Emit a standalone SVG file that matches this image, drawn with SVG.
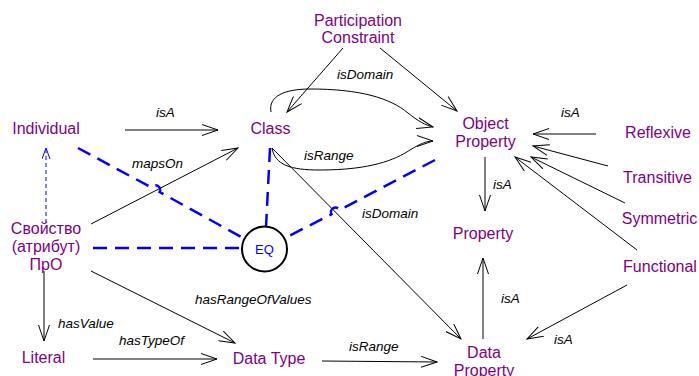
<svg xmlns="http://www.w3.org/2000/svg" width="699" height="376" viewBox="0 0 699 376">
<defs>
<style>
.n{font-family:"Liberation Sans",Arial,sans-serif;font-size:16px;fill:#800080;text-anchor:middle}
.l{font-family:"Liberation Sans",Arial,sans-serif;font-size:13.5px;font-style:italic;fill:#000}
.e{stroke:#000;stroke-width:1;fill:none;marker-end:url(#a)}
.d{stroke:#0000ff;stroke-width:2.5;fill:none;stroke-dasharray:14 8}
</style>
<marker id="a" markerWidth="17" markerHeight="12" refX="16" refY="6" orient="auto" markerUnits="userSpaceOnUse"><path d="M0,0.5 L16,6 L0,11.5" fill="none" stroke="#000" stroke-width="1"/></marker>
<marker id="b" markerWidth="12" markerHeight="9" refX="11" refY="4.5" orient="auto" markerUnits="userSpaceOnUse"><path d="M0,0.5 L11,4.5 L0,8.5" fill="none" stroke="#0000ff" stroke-width="1"/></marker>
</defs>
<rect width="699" height="376" fill="#fff"/>
<g id="connectors">
<path class="e" d="M125,130 L218,130"/>
<path class="e" d="M343,48 L287,112"/>
<path class="e" d="M380,48 L457,111"/>
<path class="e" d="M271,112 C268,96 285,89 310,89 C360,89 390,98 408,113 C418,121 425,125 433,127"/>
<path class="e" d="M272,148 C275,165 290,170 320,170 C370,170 395,160 410,150 C420,144 426,141 433,141"/>
<path class="e" d="M272,148 L461,339"/>
<path class="e" d="M91,224 L238,148"/>
<path class="e" d="M91,271 L235,343"/>
<path class="e" d="M44,271 L44,341"/>
<path class="e" d="M93,359 L217,359"/>
<path class="e" d="M322,361 L437,362"/>
<path class="e" d="M485,157 L485,211"/>
<path class="e" d="M483,339 L483,258"/>
<path class="e" d="M627,285 L527,339"/>
<path class="e" d="M596,134 L533,134"/>
<path class="e" d="M608,166 L533,146"/>
<path class="e" d="M625,203 L531,157"/>
<path class="e" d="M637,250 L515,157"/>
<path d="M46,223 L46,148" stroke="#0000ff" stroke-width="1" fill="none" stroke-dasharray="4 3" marker-end="url(#b)"/>
<path class="d" d="M78,148 L151.6,187.6 A4.5,4.5 0 0 1 159.6,192 L243,238"/>
<path class="d" d="M270,148 L266,227"/>
<path class="d" d="M435,160 L339.5,210 A4.5,4.5 0 0 0 331.5,214.3 L285,238"/>
<path class="d" d="M93,248 L241,248"/>
</g>
<g id="labels">
<text class="l" x="156" y="117">isA</text>
<text class="l" x="337" y="79">isDomain</text>
<text class="l" x="304" y="160">isRange</text>
<text class="l" x="362" y="218">isDomain</text>
<text class="l" x="132" y="168">mapsOn</text>
<text class="l" x="195" y="304">hasRangeOfValues</text>
<text class="l" x="58" y="328">hasValue</text>
<text class="l" x="119" y="345">hasTypeOf</text>
<text class="l" x="349" y="351">isRange</text>
<text class="l" x="493" y="189">isA</text>
<text class="l" x="501" y="303">isA</text>
<text class="l" x="554" y="344">isA</text>
<text class="l" x="561" y="117">isA</text>
</g>
<g id="participation-constraint"><text class="n" x="358" y="26">Participation</text><text class="n" x="358" y="43">Constraint</text></g>
<g id="individual"><text class="n" x="46" y="134">Individual</text></g>
<g id="class"><text class="n" x="270.5" y="134">Class</text></g>
<g id="object-property"><text class="n" x="485.5" y="129">Object</text><text class="n" x="485.5" y="147">Property</text></g>
<g id="reflexive"><text class="n" x="658" y="138">Reflexive</text></g>
<g id="transitive"><text class="n" x="657.5" y="183">Transitive</text></g>
<g id="symmetric"><text class="n" x="659.5" y="224">Symmetric</text></g>
<g id="functional"><text class="n" x="660" y="272">Functional</text></g>
<g id="property"><text class="n" x="483" y="239">Property</text></g>
<g id="data-property"><text class="n" x="484" y="358">Data</text><text class="n" x="484" y="376">Property</text></g>
<g id="svoistvo"><text class="n" x="46" y="234">Свойство</text><text class="n" x="46" y="252">(атрибут)</text><text class="n" x="46" y="270">ПрО</text></g>
<g id="literal"><text class="n" x="43.5" y="363">Literal</text></g>
<g id="data-type"><text class="n" x="269" y="364">Data Type</text></g>
<g id="eq"><circle cx="264.5" cy="249" r="22.5" fill="#fff" stroke="#000" stroke-width="2"/><text x="264.5" y="254" font-family="Liberation Sans, Arial, sans-serif" font-size="13" fill="#0000ff" text-anchor="middle">EQ</text></g>
</svg>
